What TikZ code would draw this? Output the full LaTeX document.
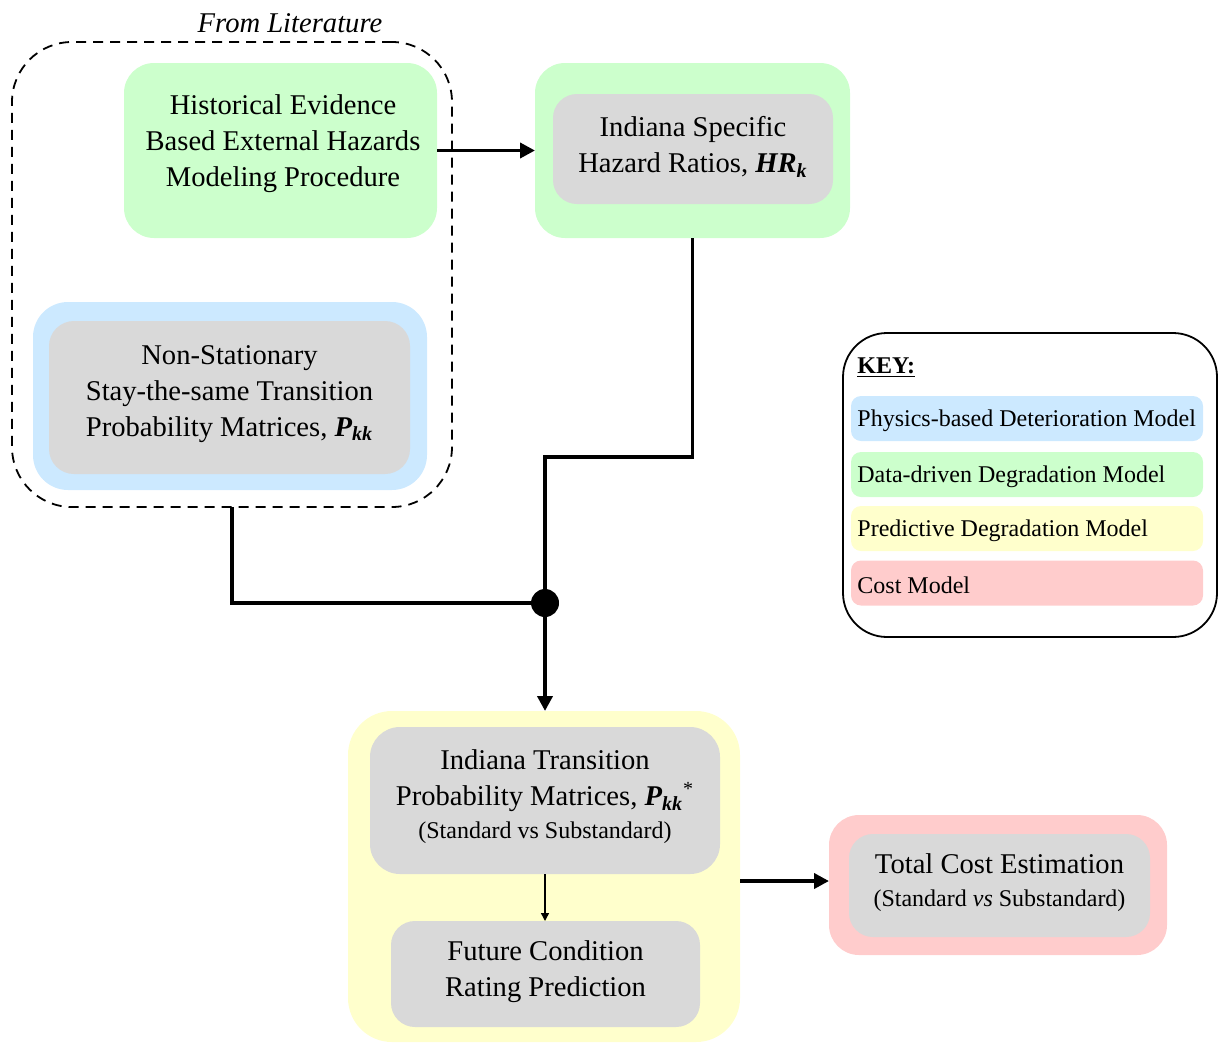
\documentclass[tikz,border=0pt]{standalone}
\usepackage{fontspec}
\setmainfont{Liberation Serif}
\usetikzlibrary{arrows.meta}
\definecolor{cgreen}{HTML}{CCFFCC}
\definecolor{cblue}{HTML}{CCE9FF}
\definecolor{cgray}{HTML}{D9D9D9}
\definecolor{cyellow}{HTML}{FFFFCC}
\definecolor{cred}{HTML}{FFCCCC}
\newcommand\smalltxtfont{\fontsize{12}{16}\selectfont}
\begin{document}
\begin{tikzpicture}[x=0.5pt,y=-0.5pt,
  box/.style={draw=none, inner sep=0pt, outer sep=0pt},
  txt/.style={align=center, font=\fontsize{14.3}{18}\selectfont, inner sep=0pt},
  keytxt/.style={anchor=west, inner sep=0pt, font=\fontsize{12}{14}\selectfont},
  keybar/.style={box, rounded corners=5pt, minimum width=176pt, minimum height=22.5pt},
  thickline/.style={line width=1.9pt},
  thickarrow/.style={line width=1.9pt, -{Triangle[length=7.5pt,width=7.5pt]}},
  thinarrow/.style={line width=0.7pt, -{Triangle[length=4pt,width=4pt]}}
]
\useasboundingbox (0,0) rectangle (1219,1044);

% From Literature dashed group
\node[draw, dashed, dash pattern=on 5pt off 3.5pt, line width=0.9pt, rounded corners=30pt,
      minimum width=220pt, minimum height=232.5pt, inner sep=0pt, outer sep=0pt] (lit) at (232,274.5) {};
\node[inner sep=0pt, font=\fontsize{14.3}{18}\selectfont\itshape] (litT) at (290,23) {From Literature};

% Historical evidence (green)
\node[box, fill=cgreen, rounded corners=15pt, minimum width=156.5pt, minimum height=87.5pt] (hist) at (280.5,150.5) {};
\node[txt] (histT) at (283,144) {Historical Evidence\\Based External Hazards\\Modeling Procedure};

% Non-stationary (blue)
\node[box, fill=cblue, rounded corners=17.5pt, minimum width=197pt, minimum height=94pt] (nsout) at (230,396) {};
\node[box, fill=cgray, rounded corners=12.5pt, minimum width=180.5pt, minimum height=76.5pt] (ns) at (229.5,397.5) {};
\node[txt] (nsT) at (229.5,394) {Non-Stationary\\Stay-the-same Transition\\Probability Matrices, \textbf{\textit{P\textsubscript{kk}}}};

% Hazard ratios (green)
\node[box, fill=cgreen, rounded corners=15pt, minimum width=157.5pt, minimum height=87.5pt] (hrout) at (692.5,150.5) {};
\node[box, fill=cgray, rounded corners=12pt, minimum width=140pt, minimum height=55pt] (hr) at (693,149) {};
\node[txt] (hrT) at (693,147) {Indiana Specific\\Hazard Ratios, \textbf{\textit{HR\textsubscript{k}}}};

% Predictive (yellow)
\node[box, fill=cyellow, rounded corners=22pt, minimum width=196pt, minimum height=165.5pt] (yel) at (544,876.5) {};
\node[box, fill=cgray, rounded corners=15pt, minimum width=175pt, minimum height=73.5pt] (itp) at (545,800.5) {};
\node[txt] (itpT) at (545,797) {Indiana Transition\\Probability Matrices, \textbf{\textit{P\textsubscript{kk}}}\textsuperscript{*}\\[-1.5pt]{\smalltxtfont (Standard vs Substandard)}};
\node[box, fill=cgray, rounded corners=12pt, minimum width=154.5pt, minimum height=53pt] (fut) at (545.5,974) {};
\node[txt] (futT) at (545.5,972) {Future Condition\\Rating Prediction};

% Cost (red)
\node[box, fill=cred, rounded corners=15pt, minimum width=169pt, minimum height=70pt] (cost) at (998,885) {};
\node[box, fill=cgray, rounded corners=12pt, minimum width=150.5pt, minimum height=51.5pt] (tc) at (999.5,885.5) {};
\node[txt] (tcT) at (999.5,883) {Total Cost Estimation\\[-1.5pt]{\smalltxtfont (Standard \textit{vs} Substandard)}};

% Key
\node[draw, line width=0.9pt, rounded corners=22pt, minimum width=187pt, minimum height=152pt, inner sep=0pt] (key) at (1030,485) {};
\node[keytxt] (keyT) at (857,368) {\underline{\textbf{KEY:}}};
\node[keybar, fill=cblue] (k1) at (1027,418.5) {};
\node[keybar, fill=cgreen] (k2) at (1027,474.5) {};
\node[keybar, fill=cyellow] (k3) at (1027,528.5) {};
\node[keybar, fill=cred] (k4) at (1027,583) {};
\node[keytxt] (k1T) at (857,421) {Physics-based Deterioration Model};
\node[keytxt] (k2T) at (857,477) {Data-driven Degradation Model};
\node[keytxt] (k3T) at (857,531) {Predictive Degradation Model};
\node[keytxt] (k4T) at (857,585) {Cost Model};

% Junction
\node[circle, fill=black, minimum size=14pt, inner sep=0pt] (dot) at (545,603) {};
\coordinate (bend) at (545,457);

% Connectors
\draw[thickarrow] (hist.east) -- (hrout.west);
\draw[thickline] (hrout.south) |- (bend) -- (dot.center);
\draw[thickline] (lit.south) |- (dot.center);
\draw[thickarrow] (dot.center) -- (dot.center |- yel.north);
\draw[thinarrow] (itp.south) -- (itp.south |- fut.north);
\draw[thickarrow] (yel.east |- 0,881) -- (cost.west |- 0,881);
\end{tikzpicture}
\end{document}
